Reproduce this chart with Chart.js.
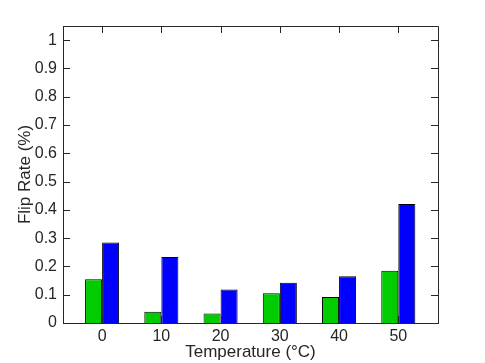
<!DOCTYPE html>
<html>
<head>
<meta charset="utf-8">
<script src="https://cdn.jsdelivr.net/npm/chart.js@4"></script>
<style>
  html, body { margin: 0; padding: 0; background: #fff; }
  canvas { display: block; }
</style>
</head>
<body>
<canvas id="chartFlipRate" width="485" height="363"></canvas>
<script>
// data
const temperatures = [0, 10, 20, 30, 40, 50];
const greenRates = [0.155, 0.040, 0.034, 0.105, 0.092, 0.185];
const blueRates = [0.285, 0.233, 0.118, 0.142, 0.165, 0.421];
const xTicks = [0, 10, 20, 30, 40, 50];
const yTicks = [0, 0.1, 0.2, 0.3, 0.4, 0.5, 0.6, 0.7, 0.8, 0.9, 1];

const axisColor = '#262626';

// 박스 + 안쪽 눈금
const boxTicks = {
    id: 'boxTicks',
    afterDraw(chart) {
        const { ctx, chartArea: a, scales } = chart;
        const len = 7;
        ctx.save();
        ctx.strokeStyle = axisColor;
        ctx.lineWidth = 1;
        ctx.beginPath();
        ctx.rect(Math.round(a.left) + 0.5, Math.round(a.top) + 0.5,
                 Math.round(a.right - a.left), Math.round(a.bottom - a.top));
        scales.y.ticks.forEach(t => {
            const y = Math.round(scales.y.getPixelForValue(t.value)) + 0.5;
            ctx.moveTo(a.left, y); ctx.lineTo(a.left + len, y);
            ctx.moveTo(a.right, y); ctx.lineTo(a.right - len, y);
        });
        scales.x.ticks.forEach(t => {
            const x = Math.round(scales.x.getPixelForValue(t.value)) + 0.5;
            ctx.moveTo(x, a.bottom); ctx.lineTo(x, a.bottom - len);
            ctx.moveTo(x, a.top); ctx.lineTo(x, a.top + len);
        });
        ctx.stroke();
        ctx.restore();
    }
};

function getChart(id) {
    const ctx = document.getElementById(id);
    const font = { family: 'Liberation Sans, Arial, sans-serif', size: 16 };
    const titleFont = { family: 'Liberation Sans, Arial, sans-serif', size: 17 };

    new Chart(ctx, {
        type: 'bar',
        data: {
            datasets: [{
                label: 'green',
                data: temperatures.map((t, i) => ({ x: t, y: greenRates[i] })),
                backgroundColor: '#00cc00',
                borderColor: '#000',
                borderWidth: 1
            }, {
                label: 'blue',
                data: temperatures.map((t, i) => ({ x: t, y: blueRates[i] })),
                backgroundColor: '#0000ff',
                borderColor: '#000',
                borderWidth: 1
            }]
        },
        options: {
            responsive: false,
            animation: false,
            categoryPercentage: 0.575,
            barPercentage: 1,
            layout: { padding: { top: 26, right: 47, left: 0, bottom: 0 } },
            plugins: { legend: { display: false }, tooltip: { enabled: false } },
            scales: {
                x: {
                    type: 'linear',
                    offset: false,
                    min: -6.6,
                    max: 56.7,
                    afterBuildTicks: s => { s.ticks = xTicks.map(v => ({ value: v })); },
                    afterFit: s => { s.height = 40; },
                    grid: { display: false, drawTicks: false },
                    border: { color: axisColor },
                    ticks: { color: axisColor, font: font, padding: 4, maxRotation: 0 },
                    title: { display: true, text: 'Temperature (°C)', color: axisColor, font: titleFont, padding: 0 }
                },
                y: {
                    min: 0,
                    max: 1.05,
                    afterBuildTicks: s => { s.ticks = yTicks.map(v => ({ value: v })); },
                    afterFit: s => { s.width = 63; },
                    grid: { display: false, drawTicks: false },
                    border: { color: axisColor },
                    ticks: { color: axisColor, font: font, padding: 6, callback: v => String(v) },
                    title: { display: true, text: 'Flip Rate (%)', color: axisColor, font: titleFont, padding: { top: 15, bottom: 0 } }
                }
            }
        },
        plugins: [boxTicks]
    });
}

window.addEventListener('DOMContentLoaded', function() {
    getChart('chartFlipRate');
});
</script>
</body>
</html>
